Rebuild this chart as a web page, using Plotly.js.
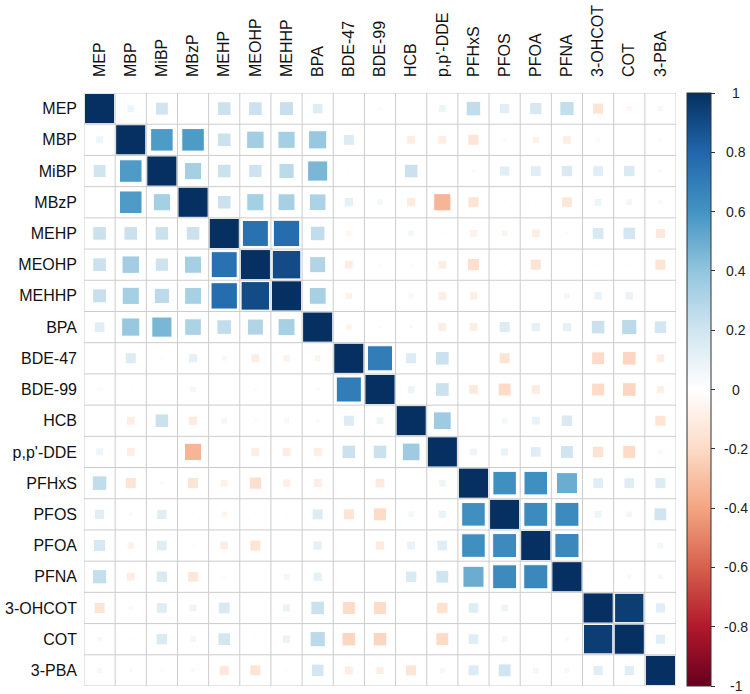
<!DOCTYPE html>
<html>
<head>
<meta charset="utf-8">
<script src="https://cdn.plot.ly/plotly-3.0.1.min.js"></script>
<style>html,body{margin:0;padding:0;background:#fff;}#chart{width:750px;height:694px;}</style>
</head>
<body>
<div id="chart"></div>
<script>
// Variable names (rows top→bottom, columns left→right)
const variables = ["MEP","MBP","MiBP","MBzP","MEHP","MEOHP","MEHHP","BPA","BDE-47","BDE-99","HCB","p,p'-DDE","PFHxS","PFOS","PFOA","PFNA","3-OHCOT","COT","3-PBA"];

// Correlation matrix rows
const rowMEP   = [1, 0.08, 0.20, 0.01, 0.22, 0.22, 0.23, 0.14, 0.01, -0.03, 0.01, 0.08, 0.25, 0.13, 0.18, 0.24, -0.15, -0.05, 0.05];
const rowMBP   = [0.08, 1, 0.57, 0.57, 0.22, 0.35, 0.34, 0.38, 0.15, 0.02, -0.10, -0.10, -0.15, 0.03, -0.07, -0.10, 0.04, 0.02, 0.03];
const rowMiBP  = [0.20, 0.57, 1, 0.34, 0.22, 0.21, 0.27, 0.46, 0.02, 0.00, 0.22, 0.01, 0.03, 0.13, 0.14, 0.16, 0.14, 0.16, 0.03];
const rowMBzP  = [0.01, 0.57, 0.34, 1, 0.22, 0.34, 0.33, 0.32, 0.11, 0.06, -0.11, -0.34, -0.15, -0.02, -0.02, -0.14, 0.08, 0.06, 0.04];
const rowMEHP  = [0.22, 0.22, 0.22, 0.22, 1, 0.75, 0.77, 0.25, -0.05, -0.01, 0.06, 0.02, -0.08, -0.06, -0.10, -0.03, 0.17, 0.19, -0.13];
const rowMEOHP = [0.22, 0.35, 0.21, 0.34, 0.75, 1, 0.90, 0.30, -0.10, -0.03, -0.03, -0.10, -0.18, -0.02, -0.15, 0.00, 0.02, 0.02, -0.15];
const rowMEHHP = [0.23, 0.34, 0.27, 0.33, 0.77, 0.90, 1, 0.33, -0.07, -0.01, -0.05, -0.10, -0.09, -0.02, -0.01, 0.06, 0.09, 0.09, -0.02];
const rowBPA   = [0.14, 0.38, 0.46, 0.32, 0.25, 0.30, 0.33, 1, -0.06, 0.03, 0.03, -0.10, -0.10, 0.15, 0.11, 0.11, 0.22, 0.27, 0.19];
const rowBDE47 = [0.01, 0.15, 0.02, 0.11, -0.05, -0.10, -0.07, -0.06, 1, 0.70, 0.15, 0.22, 0.01, -0.15, 0.01, 0.00, -0.20, -0.22, -0.10];
const rowBDE99 = [-0.03, 0.02, 0.00, 0.06, -0.01, -0.03, -0.01, 0.03, 0.70, 1, 0.08, 0.22, -0.12, -0.20, -0.11, -0.01, -0.20, -0.22, -0.09];
const rowHCB   = [0.01, -0.10, 0.22, -0.11, 0.06, -0.03, -0.05, 0.03, 0.15, 0.08, 1, 0.36, 0.01, 0.06, 0.10, 0.16, -0.01, 0.01, -0.15];
const rowDDE   = [0.08, -0.10, 0.01, -0.34, 0.02, -0.10, -0.10, -0.10, 0.22, 0.22, 0.36, 1, 0.08, 0.09, 0.14, 0.20, -0.16, -0.20, -0.05];
const rowPFHxS = [0.25, -0.15, 0.03, -0.15, -0.08, -0.18, -0.09, -0.10, 0.01, -0.12, 0.01, 0.08, 1, 0.62, 0.62, 0.50, 0.14, 0.14, 0.15];
const rowPFOS  = [0.13, 0.03, 0.13, -0.02, -0.06, -0.02, -0.02, 0.15, -0.15, -0.20, 0.06, 0.09, 0.62, 1, 0.64, 0.64, 0.08, 0.06, 0.20];
const rowPFOA  = [0.18, -0.07, 0.14, -0.02, -0.10, -0.15, -0.01, 0.11, 0.01, -0.11, 0.10, 0.14, 0.62, 0.64, 1, 0.65, 0.01, 0.01, 0.06];
const rowPFNA  = [0.24, -0.10, 0.16, -0.14, -0.03, 0.00, 0.06, 0.11, 0.00, -0.01, 0.16, 0.20, 0.50, 0.64, 0.65, 1, 0.01, 0.04, 0.05];
const rowOHCOT = [-0.15, 0.04, 0.14, 0.08, 0.17, 0.02, 0.09, 0.22, -0.20, -0.20, -0.01, -0.16, 0.14, 0.08, 0.01, 0.01, 1, 0.95, 0.13];
const rowCOT   = [-0.05, 0.02, 0.16, 0.06, 0.19, 0.02, 0.09, 0.27, -0.22, -0.22, 0.01, -0.20, 0.14, 0.06, 0.01, 0.04, 0.95, 1, 0.13];
const rowPBA   = [0.05, 0.03, 0.03, 0.04, -0.13, -0.15, -0.02, 0.19, -0.10, -0.09, -0.15, -0.05, 0.15, 0.20, 0.06, 0.05, 0.13, 0.13, 1];

const corr = [rowMEP,rowMBP,rowMiBP,rowMBzP,rowMEHP,rowMEOHP,rowMEHHP,rowBPA,rowBDE47,rowBDE99,rowHCB,rowDDE,rowPFHxS,rowPFOS,rowPFOA,rowPFNA,rowOHCOT,rowCOT,rowPBA];

// Colorbar tick values
const cbTicks = [1, 0.8, 0.6, 0.4, 0.2, 0, -0.2, -0.4, -0.6, -0.8, -1];

// Layout geometry
const W = 750, H = 694;
const margin = {l: 84, r: 74, t: 93, b: 8};
const n = variables.length;
const cellPx = Math.min((W - margin.l - margin.r) / n, (H - margin.t - margin.b) / n);

const rdbu = ["#67001F","#B2182B","#D6604D","#F4A582","#FDDBC7","#FFFFFF","#D1E5F0","#92C5DE","#4393C3","#2166AC","#053061"];
const colorscale = rdbu.map((c, i) => [i / (rdbu.length - 1), c]);

const xs = [], ys = [], sizes = [], vals = [], texts = [];
for (let i = 0; i < n; i++) {
  for (let j = 0; j < n; j++) {
    const v = corr[i][j];
    xs.push(j); ys.push(i); vals.push(v);
    sizes.push(Math.max(Math.sqrt(Math.abs(v)) * cellPx - 1, 0));
    texts.push(variables[i] + " / " + variables[j] + ": " + v);
  }
}

const trace = {
  type: "scatter", mode: "markers",
  x: xs, y: ys, text: texts, hoverinfo: "text",
  marker: {
    symbol: "square", size: sizes, color: vals, opacity: 1,
    cmin: -1, cmax: 1, colorscale: colorscale,
    line: {color: "#ffffff", width: 1},
    showscale: true,
    colorbar: {
      x: (687 - margin.l) / (W - margin.l - margin.r), xanchor: "left",
      y: 0.5, yanchor: "middle", len: 1, lenmode: "fraction",
      thickness: 24, thicknessmode: "pixels",
      xpad: 0, ypad: 0,
      outlinewidth: 1, outlinecolor: "#333333",
      tickmode: "array", tickvals: cbTicks,
      ticks: "outside", ticklen: 4, tickcolor: "#333333",
      showticklabels: false
    }
  }
};

const shapes = [];
for (let k = 0; k <= n; k++) {
  shapes.push({type: "line", xref: "x", yref: "y", x0: k - 0.5, x1: k - 0.5, y0: -0.5, y1: n - 0.5,
    line: {color: "#cccccc", width: 1}, layer: "above"});
  shapes.push({type: "line", xref: "x", yref: "y", y0: k - 0.5, y1: k - 0.5, x0: -0.5, x1: n - 0.5,
    line: {color: "#cccccc", width: 1}, layer: "above"});
}

const annotations = cbTicks.map(v => ({
  xref: "paper", yref: "paper",
  x: (736 - margin.l) / (W - margin.l - margin.r), y: (v + 1) / 2,
  text: String(v), showarrow: false, xanchor: "center", yanchor: "middle",
  font: {family: "Liberation Sans, Arial, sans-serif", size: 14, color: "#222222"}
}));

const axisFont = {family: "Liberation Sans, Arial, sans-serif", size: 16, color: "#111111"};
const idx = variables.map((_, i) => i);

const layout = {
  width: W, height: H, margin: margin,
  paper_bgcolor: "#ffffff", plot_bgcolor: "#ffffff",
  showlegend: false,
  xaxis: {
    range: [-0.5, n - 0.5], side: "top", tickmode: "array", tickvals: idx, ticktext: variables,
    tickangle: -90, tickfont: axisFont, showgrid: false, zeroline: false, showline: false,
    ticks: "", ticklabelstandoff: 15, fixedrange: true
  },
  yaxis: {
    range: [n - 0.5, -0.5], tickmode: "array", tickvals: idx, ticktext: variables,
    tickfont: axisFont, showgrid: false, zeroline: false, showline: false,
    ticks: "", ticklabelstandoff: 6, fixedrange: true
  },
  shapes: shapes,
  annotations: annotations
};

Plotly.newPlot("chart", [trace], layout, {displayModeBar: false, staticPlot: true});
</script>
</body>
</html>
